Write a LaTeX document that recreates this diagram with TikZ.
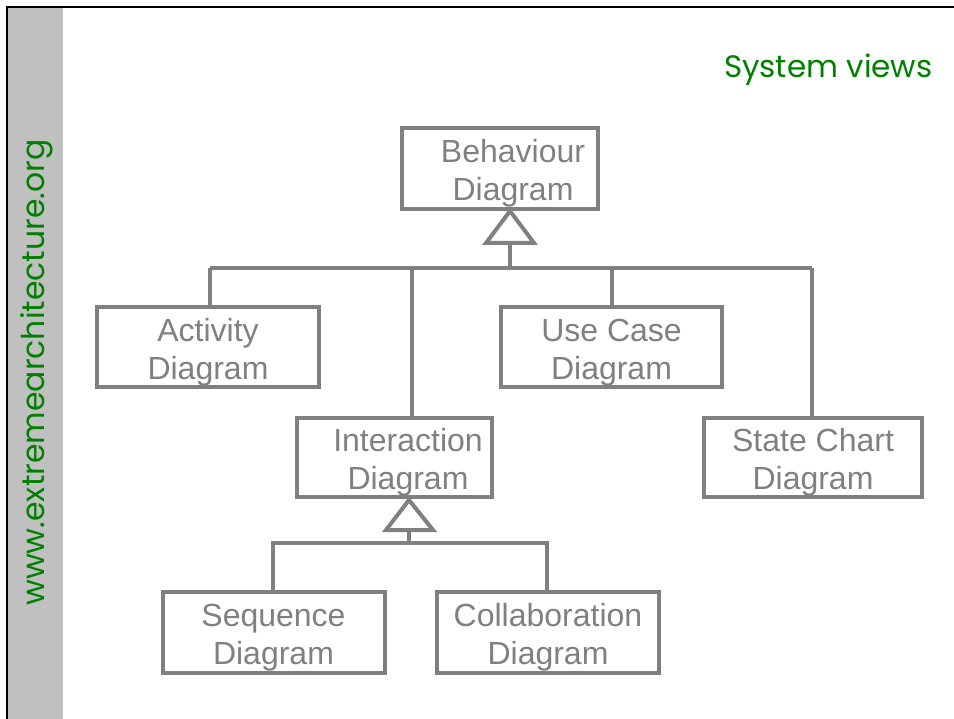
\documentclass[tikz,border=0pt]{standalone}
\usepackage{fontspec}
\setmainfont{Liberation Sans}
\newfontfamily\geofont{Poppins}
\definecolor{linegray}{HTML}{808080}
\definecolor{bargray}{HTML}{C0C0C0}
\definecolor{webgreen}{HTML}{008000}
\newcommand{\boxtext}[3][0pt]{\hspace*{#1}\raisebox{-5.5pt}[\height][\depth]{\begin{tabular}{@{}c@{}}#2\\#3\end{tabular}}}
\begin{document}
\begin{tikzpicture}[x=1pt,y=-1pt,
  umlbox/.style={draw=linegray,line width=4pt,fill=white,align=center,
    text=linegray,font=\fontsize{32}{38}\selectfont,inner sep=0pt},
  conn/.style={draw=linegray,line width=4pt},
  inh/.style={draw=linegray,line width=4pt,fill=white,line join=miter}]
\useasboundingbox (0,0) rectangle (954,719);
\fill[bargray] (8,8) rectangle (63,719);
\draw[black,line width=2.5pt] (7,719) -- (7,7) -- (954,7);
\node[text=webgreen,font=\geofont\fontsize{31}{36}\selectfont,anchor=base east] (title) at (936,78) {System views};
\node[text=webgreen,font=\geofont\fontsize{31.5}{36}\selectfont,rotate=90,anchor=base] (web) at (44,372.5) {www.extremearchitecture.org};
\node[umlbox,minimum width=196pt,minimum height=81pt] (beh) at (500,168.5) {\boxtext[26pt]{Behaviour}{Diagram}};
\node[umlbox,minimum width=222pt,minimum height=80pt] (act) at (208,347) {\boxtext{Activity}{Diagram}};
\node[umlbox,minimum width=221pt,minimum height=80pt] (use) at (611.5,347) {\boxtext{Use Case}{Diagram}};
\node[umlbox,minimum width=195pt,minimum height=79pt] (int) at (394.5,457.5) {\boxtext[27pt]{Interaction}{Diagram}};
\node[umlbox,minimum width=218pt,minimum height=79pt] (sta) at (813,457.5) {\boxtext{State Chart}{Diagram}};
\node[umlbox,minimum width=222pt,minimum height=81pt] (seq) at (273.5,632) {\boxtext{Sequence}{Diagram}};
\node[umlbox,minimum width=222pt,minimum height=81pt] (col) at (548,632) {\boxtext{Collaboration}{Diagram}};
% top inheritance
\coordinate (t1apex) at (510,211);
\coordinate (t1base) at (510,243);
\coordinate (bus1) at (510,268);
\coordinate (b1l) at (210,268);
\coordinate (b1r) at (812,268);
\coordinate (bususe) at (612,268);
\coordinate (busint) at (412,268);
\draw[conn] (t1base) -- (bus1);
\draw[conn,line cap=butt] (b1l) -- (b1r);
\draw[conn] (b1l) -- (b1l |- act.north);
\draw[conn] (bususe) -- (bususe |- use.north);
\draw[conn] (busint) -- (busint |- int.north);
\draw[conn] (b1r) -- (b1r |- sta.north);
\draw[inh] (t1apex) -- (486,243) -- (534,243) -- cycle;
% second inheritance
\coordinate (t2apex) at (409,500);
\coordinate (t2base) at (409,530);
\coordinate (bus2) at (409,543);
\coordinate (b2l) at (273,543);
\coordinate (b2r) at (547,543);
\draw[conn] (t2base) -- (bus2);
\draw[conn] (b2l |- seq.north) -- (b2l) -- (b2r) -- (b2r |- col.north);
\draw[inh] (t2apex) -- (386,530) -- (433,530) -- cycle;
\end{tikzpicture}
\end{document}
